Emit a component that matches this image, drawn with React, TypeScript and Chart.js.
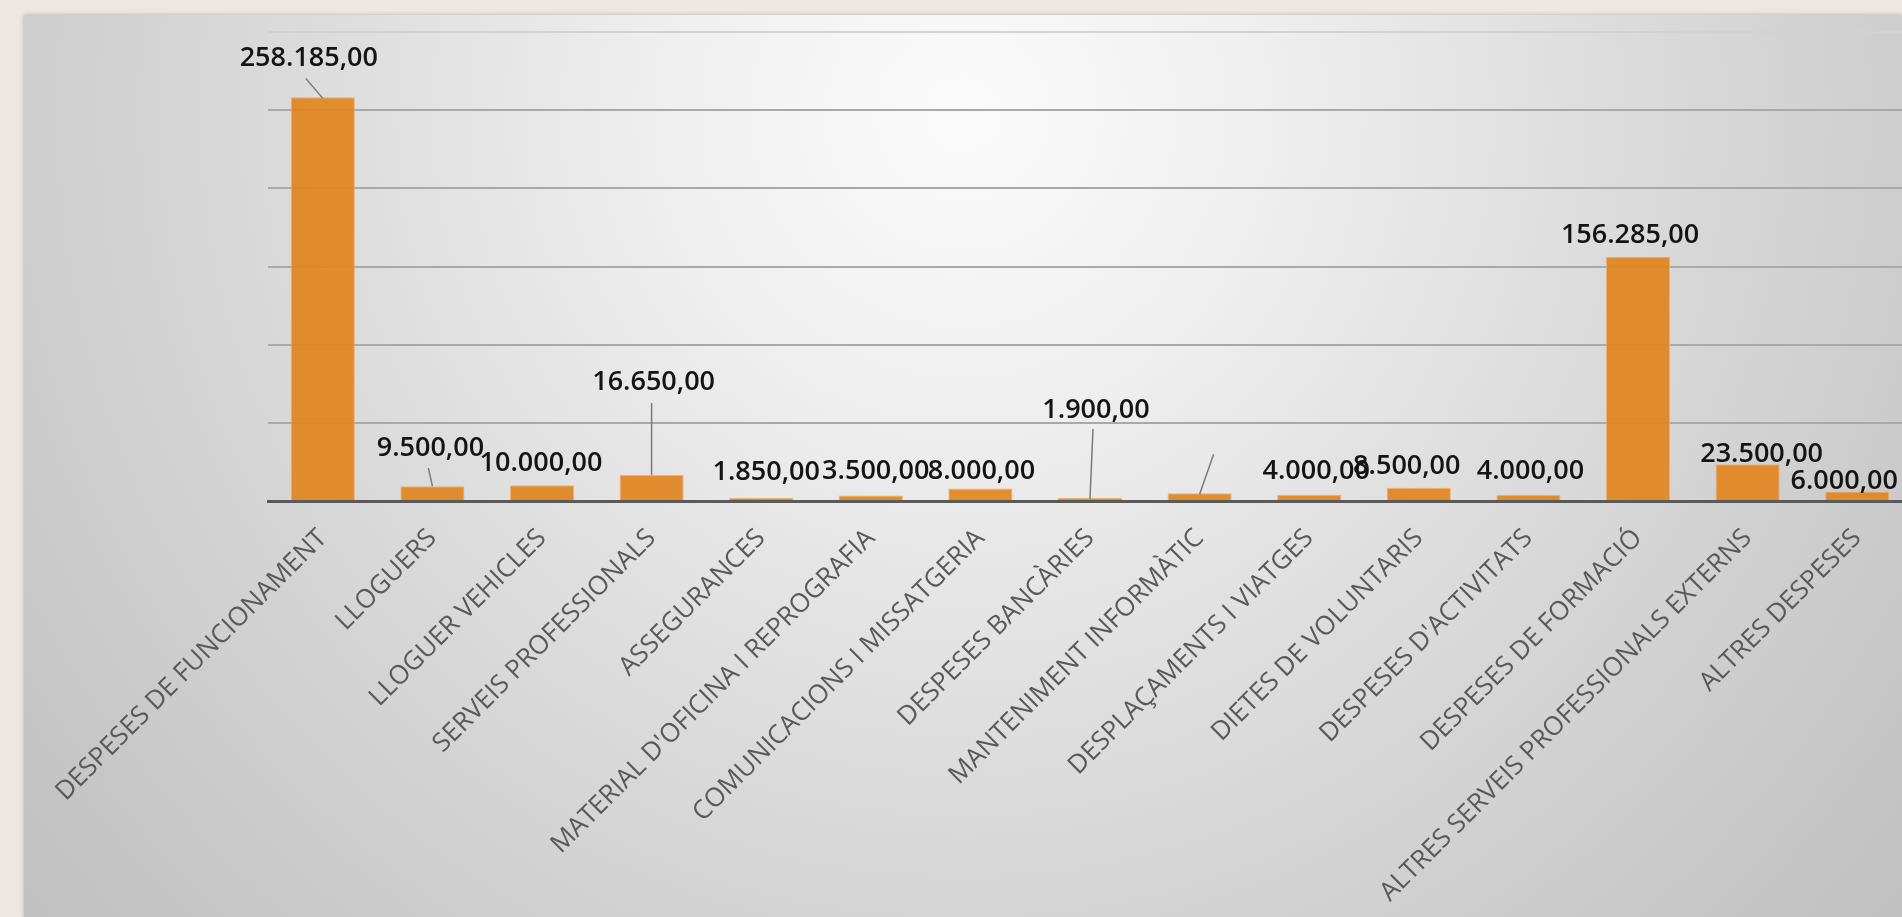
import React, { useEffect, useRef } from 'react';
import { Chart, registerables } from 'chart.js';

Chart.register(...registerables);

const categories = [
  'DESPESES DE FUNCIONAMENT',
  'LLOGUERS',
  'LLOGUER VEHICLES',
  'SERVEIS PROFESSIONALS',
  'ASSEGURANCES',
  "MATERIAL D'OFICINA I REPROGRAFIA",
  'COMUNICACIONS I MISSATGERIA',
  'DESPESES BANCÀRIES',
  'MANTENIMENT INFORMÀTIC',
  'DESPLAÇAMENTS I VIATGES',
  'DIETES DE VOLUNTARIS',
  "DESPESES D'ACTIVITATS",
  'DESPESES DE FORMACIÓ',
  'ALTRES SERVEIS PROFESSIONALS EXTERNS',
  'ALTRES DESPESES',
];

const values = [258185, 9500, 10000, 16650, 1850, 3500, 8000, 1900, 5000, 4000, 8500, 4000, 156285, 23500, 6000];

// whether the value label is visible (the Manteniment label is not shown in the original)
const showLabel = [true, true, true, true, true, true, true, true, false, true, true, true, true, true, true];

const yMin = 0;
const yMax = 300000;
const yStep = 50000;

// label offsets (dx, dy) from the top centre of each bar, in px
const labelOffsets: [number, number][] = [
  [-14, -39], [-2, -38], [-1, -22], [2, -93], [5, -26], [5, -24], [1, -17], [6, -88],
  [0, 0], [7, -23], [-12, -21], [2, -23], [-8, -21], [14, -10], [-13, -10],
];

// leader lines (from dx, dy to dx, dy) relative to the bar top centre
const leaders: ([number, number, number, number] | null)[] = [
  [-17, -19, 0, 1], [-4, -18, 0, 0], null, [0, -72, 0, 0], null, null, null, [3, -69, 0, 1],
  [14, -39, 0, 1], null, null, null, null, null, null,
];

function fmt(v: number): string {
  const s = Math.round(v).toString();
  return s.replace(/\B(?=(\d{3})+(?!\d))/g, '.') + ',00';
}

const labelPlugin = {
  id: 'valueLabels',
  afterDatasetsDraw(chart: any) {
    const ctx = chart.ctx;
    const meta = chart.getDatasetMeta(0);
    ctx.save();
    meta.data.forEach((bar: any, i: number) => {
      const { x, y } = bar.getProps(['x', 'y'], true);
      const ld = leaders[i];
      if (ld) {
        ctx.strokeStyle = '#7a7a7a';
        ctx.lineWidth = 1.5;
        ctx.beginPath();
        ctx.moveTo(x + ld[0], y + ld[1]);
        ctx.lineTo(x + ld[2], y + ld[3]);
        ctx.stroke();
      }
      if (showLabel[i]) {
        ctx.font = '600 27px "Open Sans"';
        ctx.fillStyle = '#141414';
        ctx.textAlign = 'center';
        ctx.textBaseline = 'middle';
        ctx.fillText(fmt(values[i]), x + labelOffsets[i][0], y + labelOffsets[i][1]);
      }
    });
    ctx.restore();
  },
};

export default function App() {
  const ref = useRef<HTMLCanvasElement | null>(null);

  useEffect(() => {
    if (!ref.current) return;
    const chart = new Chart(ref.current, {
      type: 'bar',
      data: {
        labels: categories,
        datasets: [
          {
            data: values,
            backgroundColor: 'rgba(225, 134, 32, 0.92)',
            borderColor: 'rgba(240, 170, 100, 0.9)',
            borderWidth: 1,
            barPercentage: 0.585,
            categoryPercentage: 1,
          },
        ],
      },
      options: {
        responsive: false,
        animation: false,
        layout: { padding: { left: 268, right: 18, top: 32, bottom: 0 } },
        plugins: { legend: { display: false }, tooltip: { enabled: false } },
        scales: {
          x: {
            grid: { display: false, drawTicks: false },
            border: { display: true, color: '#5a5a5a', width: 3 },
            ticks: {
              autoSkip: false,
              maxRotation: 45,
              minRotation: 45,
              padding: 22,
              color: '#595959',
              font: { family: 'Open Sans', size: 26 },
            },
            afterFit: (s: any) => {
              s.height = 416;
            },
          },
          y: {
            min: yMin,
            max: yMax,
            ticks: { display: false, stepSize: yStep },
            border: { display: false },
            grid: {
              drawTicks: false,
              lineWidth: 2,
              color: (c: any) => (c.tick && c.tick.value === yMax ? '#d2d2d2' : '#a9a9a9'),
            },
            afterFit: (s: any) => {
              s.width = 0;
            },
          },
        },
      },
      plugins: [labelPlugin],
    });
    return () => chart.destroy();
  }, []);

  return (
    <div style={{ position: 'fixed', inset: 0, overflow: 'hidden', background: '#EEE7E1' }}>
      <div
        style={{
          position: 'absolute',
          left: 24,
          top: 15,
          right: 0,
          bottom: 0,
          boxShadow: '0 0 4px rgba(0,0,0,0.25)',
          background:
            'radial-gradient(circle at 50% 11%, #fbfbfb 0px, #efefef 300px, #dcdcdc 650px, #c6c6c6 1100px, #bcbcbc 1350px)',
        }}
      />
      <canvas ref={ref} width={1930} height={917} style={{ position: 'absolute', left: 0, top: 0 }} />
    </div>
  );
}
